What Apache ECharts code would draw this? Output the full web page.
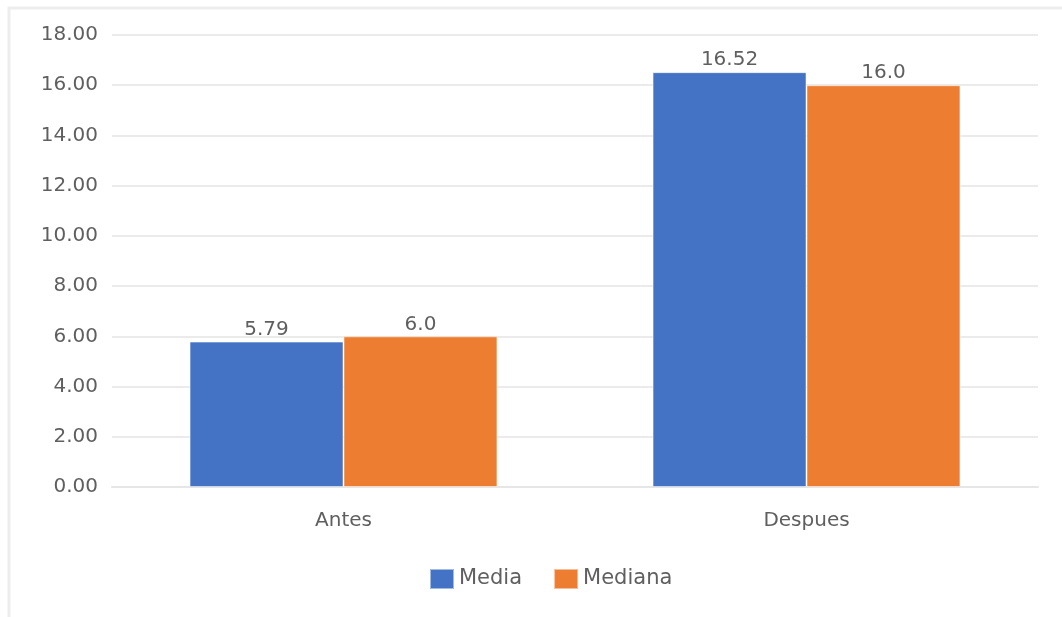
<!DOCTYPE html>
<html>
<head>
<meta charset="utf-8">
<script src="https://cdn.jsdelivr.net/npm/echarts@6/dist/echarts.min.js"></script>
<style>
  html, body { margin: 0; padding: 0; background: #fff; }
  #chart { width: 1062px; height: 617px; }
</style>
</head>
<body>
<div id="chart"></div>
<script>
// Categories and series values
const categories = ['Antes', 'Despues'];
const mediaValues = [5.79, 16.52];
const medianaValues = [6.0, 16.0];
const mediaLabels = ['5.79', '16.52'];
const medianaLabels = ['6.0', '16.0'];
const yTicks = { min: 0, max: 18, interval: 2 };

const textColor = '#5f5f5f';
const fontFamily = '"DejaVu Sans", sans-serif';

const chart = echarts.init(document.getElementById('chart'));

function labelFor(texts) {
  return {
    show: true,
    position: 'top',
    distance: 2,
    color: textColor,
    fontSize: 20,
    fontFamily: fontFamily,
    formatter: p => texts[p.dataIndex]
  };
}

chart.setOption({
  animation: false,
  backgroundColor: '#ffffff',
  graphic: [{
    type: 'rect',
    shape: { x: 9, y: 8, width: 1100, height: 700 },
    style: { fill: 'none', stroke: '#ededed', lineWidth: 3 },
    silent: true
  }],
  grid: { left: 112, right: 24, top: 35, bottom: 130 },
  legend: {
    bottom: 22,
    left: 424,
    itemWidth: 24,
    itemHeight: 20,
    itemGap: 31,
    icon: 'rect',
    textStyle: { color: textColor, fontSize: 21, fontFamily: fontFamily },
    data: ['Media', 'Mediana']
  },
  xAxis: {
    type: 'category',
    data: categories,
    axisLine: { show: true, lineStyle: { color: '#e6e6e6', width: 2 } },
    axisTick: { show: false },
    axisLabel: { color: textColor, fontSize: 20, fontFamily: fontFamily, margin: 24 }
  },
  yAxis: {
    type: 'value',
    min: yTicks.min,
    max: yTicks.max,
    interval: yTicks.interval,
    axisLine: { show: false },
    axisTick: { show: false },
    splitLine: { lineStyle: { color: '#ebebeb', width: 2 } },
    axisLabel: {
      color: textColor,
      fontSize: 20,
      fontFamily: fontFamily,
      margin: 14,
      formatter: v => v.toFixed(2)
    }
  },
  series: [
    {
      name: 'Media',
      type: 'bar',
      data: mediaValues,
      barGap: '0%',
      barCategoryGap: '33.5%',
      itemStyle: { color: '#4472c4', borderColor: 'rgba(255,255,255,0.5)', borderWidth: 1 },
      label: labelFor(mediaLabels)
    },
    {
      name: 'Mediana',
      type: 'bar',
      data: medianaValues,
      barGap: '0%',
      barCategoryGap: '33.5%',
      itemStyle: { color: '#ed7d31', borderColor: 'rgba(255,255,255,0.5)', borderWidth: 1 },
      label: labelFor(medianaLabels)
    }
  ]
});
</script>
</body>
</html>
